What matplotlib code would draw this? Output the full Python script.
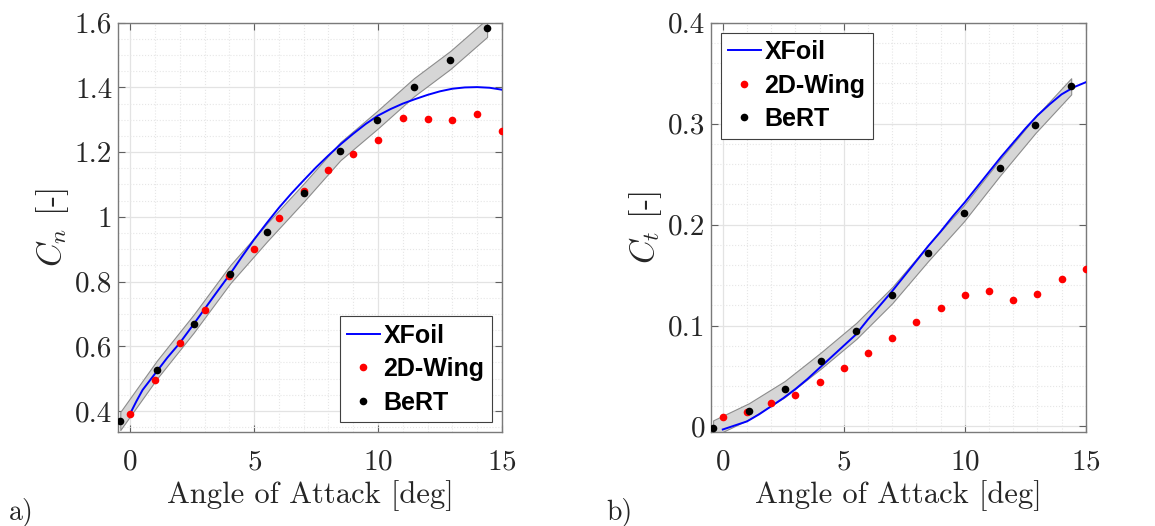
import numpy as np
import matplotlib
matplotlib.use("Agg")
import matplotlib.pyplot as plt
from matplotlib.ticker import MultipleLocator, FuncFormatter

plt.rcParams.update({"font.family": "cmr10", "mathtext.fontset": "cm",
                     "axes.formatter.use_mathtext": True})

# ---- data ----
xf_aoa = [0, 0.25, 0.5, 1, 1.5, 2, 2.5, 3, 3.5, 4, 4.5, 5, 5.5, 6, 6.5, 7,
          7.5, 8, 8.5, 9, 9.5, 10, 10.5, 11, 11.5, 12, 12.5, 13, 13.5, 14,
          14.5, 15]
xf_cn = [0.392, 0.43, 0.465, 0.515, 0.565, 0.61, 0.662, 0.715, 0.768, 0.82,
         0.876, 0.93, 0.98, 1.028, 1.072, 1.113, 1.153, 1.190, 1.225, 1.257,
         1.287, 1.313, 1.333, 1.35, 1.364, 1.377, 1.388, 1.396, 1.400, 1.401,
         1.399, 1.393]
xf_ct = [-0.003, -0.001, 0.001, 0.005, 0.012, 0.020, 0.028, 0.037, 0.047,
         0.058, 0.069, 0.080, 0.091, 0.106, 0.120, 0.134, 0.149, 0.164, 0.179,
         0.193, 0.208, 0.222, 0.237, 0.252, 0.267, 0.281, 0.295, 0.308, 0.319,
         0.329, 0.336, 0.341]

wing_aoa = [0, 1, 2, 3, 4, 5, 6, 7, 8, 9, 10, 11, 12, 13, 14, 15]
wing_cn = [0.392, 0.495, 0.611, 0.711, 0.816, 0.900, 0.997, 1.080, 1.144,
           1.194, 1.239, 1.304, 1.301, 1.299, 1.319, 1.265]
wing_ct = [0.0092, 0.0145, 0.023, 0.031, 0.044, 0.058, 0.073, 0.088, 0.103,
           0.117, 0.130, 0.134, 0.125, 0.131, 0.1465, 0.156]

bert_aoa = [-0.4, 1.08, 2.56, 4.04, 5.52, 7.0, 8.48, 9.96, 11.44, 12.92, 14.4]
bert_cn = [0.369, 0.528, 0.670, 0.823, 0.952, 1.075, 1.203, 1.299, 1.400,
           1.485, 1.584]
bert_ct = [-0.002, 0.015, 0.037, 0.065, 0.0947, 0.130, 0.1716, 0.211, 0.256,
           0.2987, 0.337]
band_cn = 0.028   # half width of the shaded BeRT band
band_ct = 0.008

LEG_FONT = {"family": "Liberation Sans", "weight": "bold", "size": 18}


def panel(ax, yx, yw, yb, band, ylim, major, minor, ylabel, legloc):
    b = np.array(yb)
    ax.fill_between(bert_aoa, b - band, b + band, color="#d6d6d6",
                    edgecolor="#8c8c8c", linewidth=0.8, zorder=2)
    ax.plot(xf_aoa, yx, color="#0000ff", lw=1.4, label="XFoil", zorder=3)
    ax.plot(wing_aoa, yw, "o", color="#ff0000", ms=5.5, mew=0,
            label="2D-Wing", zorder=4)
    ax.plot(bert_aoa, yb, "o", color="black", ms=5.5, mew=0, label="BeRT",
            zorder=5)
    ax.set_xlim(-0.5, 15)
    ax.set_ylim(*ylim)
    ax.xaxis.set_major_locator(MultipleLocator(5))
    ax.xaxis.set_minor_locator(MultipleLocator(1))
    ax.yaxis.set_major_locator(MultipleLocator(major))
    ax.yaxis.set_minor_locator(MultipleLocator(minor))
    ax.yaxis.set_major_formatter(FuncFormatter(lambda v, p: f"{v:g}"))
    ax.grid(True, which="major", color="#e3e3e3", lw=0.9, zorder=0)
    ax.grid(True, which="minor", color="#e6e6e6", lw=0.8, ls=":", zorder=0)
    ax.set_axisbelow(True)
    ax.tick_params(which="both", direction="in", top=True, right=True,
                   labelsize=21, colors="#262626")
    ax.tick_params(axis="x", pad=12)
    ax.tick_params(axis="y", pad=4)
    ax.tick_params(which="major", length=5, color="#606060")
    ax.tick_params(which="minor", length=0)
    for s in ax.spines.values():
        s.set_color("#7a7a7a")
        s.set_linewidth(1.0)
    ax.set_xlabel("Angle of Attack [deg]", fontsize=22, color="#262626",
                  labelpad=4)
    ax.set_ylabel(ylabel, fontsize=24, color="#262626", labelpad=3)
    leg = ax.legend(loc=legloc, prop=LEG_FONT, fancybox=False, framealpha=1,
                    edgecolor="#404040", handlelength=1.3, handletextpad=0.15,
                    borderpad=0.3, labelspacing=0.38, borderaxespad=0.4)
    leg.get_frame().set_linewidth(0.8)


fig = plt.figure(figsize=(11.55, 5.26), dpi=100)
ax1 = fig.add_axes([0.102, 0.1787, 0.3326, 0.7781])
ax2 = fig.add_axes([0.6153, 0.1787, 0.3247, 0.7781])

panel(ax1, xf_cn, wing_cn, bert_cn, band_cn, (0.335, 1.6), 0.2, 0.05,
      r"$C_n$ [-]", "lower right")
panel(ax2, xf_ct, wing_ct, bert_ct, band_ct, (-0.0055, 0.4), 0.1, 0.02,
      r"$C_t$ [-]", "upper left")

fig.text(0.008, 0.012, "a)", fontsize=20, color="#262626")
fig.text(0.525, 0.012, "b)", fontsize=20, color="#262626")

fig.savefig("out.png", dpi=100)
